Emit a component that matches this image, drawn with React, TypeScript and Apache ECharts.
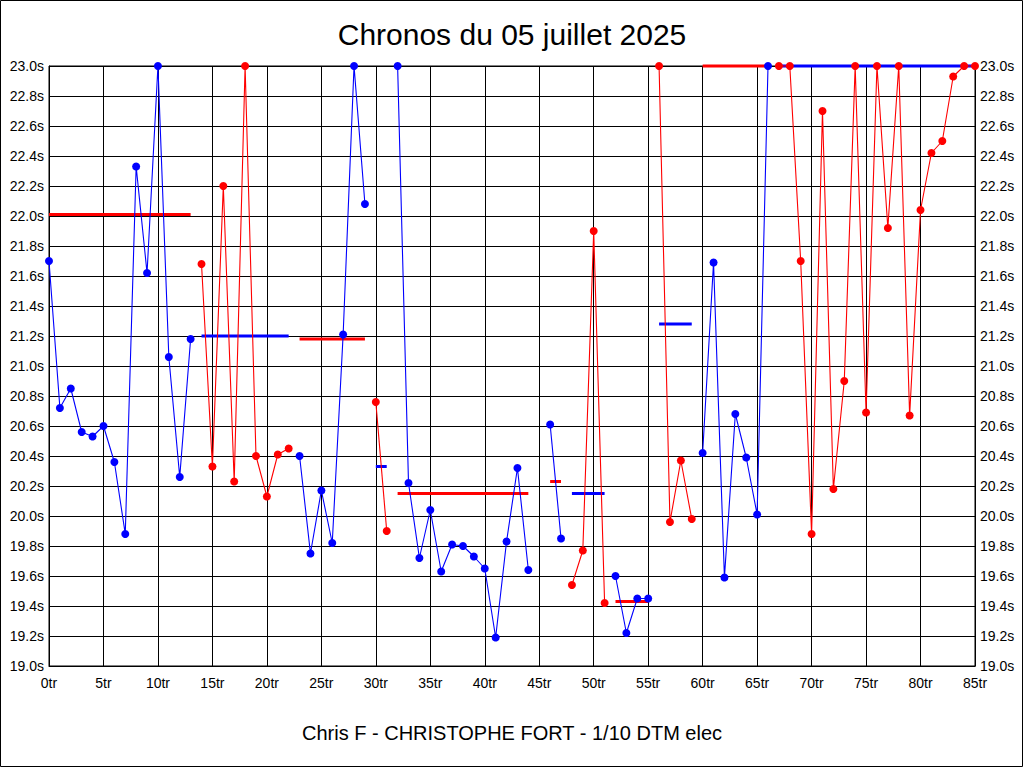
import React, { useEffect, useRef } from "react";
import * as echarts from "echarts";

// Lap times in seconds, index = lap number (null = no lap recorded). Values above 23.0s are shown clamped at 23.0s.
const lapTimes: (number | null)[] = [
  21.70, 20.72, 20.85, 20.56, 20.53, 20.60, 20.36, 19.88, 22.33, 21.62,
  23.00, 21.06, 20.26, 21.18, 21.68, 20.33, 22.20, 20.23, 23.00, 20.40,
  20.13, 20.41, 20.45, 20.40, 19.75, 20.17, 19.82, 21.21, 23.00, 22.08,
  20.76, 19.90, 23.00, 20.22, 19.72, 20.04, 19.63, 19.81, 19.80, 19.73,
  19.65, 19.19, 19.83, 20.32, 19.64, null, 20.61, 19.85, 19.54, 19.77,
  21.90, 19.42, 19.60, 19.22, 19.45, 19.45, 23.00, 19.96, 20.37, 19.98,
  20.42, 21.69, 19.59, 20.68, 20.39, 20.01, 23.00, 23.00, 23.00, 21.70,
  19.88, 22.70, 20.18, 20.90, 23.00, 20.69, 23.00, 21.92, 23.00, 20.67,
  22.04, 22.42, 22.50, 22.93, 23.00, 23.00,
];

// Runs (segments) of laps
const segmentStarts = [0, 14, 23, 30, 32, 46, 48, 52, 56, 60, 67];
const segmentEnds = [13, 22, 29, 31, 44, 47, 51, 55, 59, 66, 85];
const segmentColors = ["blue", "red", "blue", "red", "blue", "blue", "red", "blue", "red", "blue", "red"];
const segmentAverages = [22.01, 21.2, 21.18, 20.33, 20.15, 20.23, 20.15, 19.43, 21.28, 23.0, 23.0];

const titleText = "Chronos du 05 juillet 2025";
const subtitleText = "Chris F - CHRISTOPHE FORT - 1/10 DTM elec";

const COLORS: Record<string, string> = { blue: "#0000ff", red: "#ff0000" };
const FONT = "'Liberation Sans', Arial, sans-serif";

export default function App() {
  const ref = useRef<HTMLDivElement>(null);
  useEffect(() => {
    if (!ref.current) return;
    const chart = echarts.init(ref.current, null, { renderer: "svg" });
    const series: any[] = [];
    segmentStarts.forEach((start, i) => {
      const end = segmentEnds[i];
      const c = COLORS[segmentColors[i]];
      const other = segmentColors[i] === "blue" ? COLORS.red : COLORS.blue;
      const pts: number[][] = [];
      for (let lap = start; lap <= end; lap++) {
        const v = lapTimes[lap];
        if (v != null) pts.push([lap, v]);
      }
      series.push({
        type: "line",
        data: [[start, segmentAverages[i]], [end, segmentAverages[i]]],
        symbol: "none",
        lineStyle: { color: other, width: 3 },
        clip: false,
        z: 2,
        silent: true,
      });
      series.push({
        type: "line",
        data: pts,
        symbol: "circle",
        symbolSize: 8,
        showSymbol: true,
        lineStyle: { color: c, width: 1.1 },
        itemStyle: { color: c },
        clip: false,
        z: 3,
        silent: true,
      });
    });

    const yLabel = (v: number) => v.toFixed(1) + "s";
    const axisLabelStyle = { color: "#000", fontSize: 14, fontFamily: FONT };

    chart.setOption({
      animation: false,
      backgroundColor: "#fff",
      grid: {
        left: 49,
        top: 66,
        width: 926,
        height: 600,
        show: true,
        borderColor: "#000",
        borderWidth: 1,
        backgroundColor: "transparent",
      },
      xAxis: {
        type: "value",
        min: 0,
        max: 85,
        interval: 5,
        axisLine: { show: true, lineStyle: { color: "#000", width: 1 } },
        axisTick: { show: false },
        axisLabel: {
          ...axisLabelStyle,
          margin: 10,
          showMinLabel: true,
          showMaxLabel: true,
          formatter: (v: number) => v + "tr",
        },
        splitLine: { show: true, lineStyle: { color: "#000", width: 1 } },
      },
      yAxis: [
        {
          type: "value",
          position: "left",
          min: 19,
          max: 23,
          interval: 0.2,
          axisLine: { show: true, lineStyle: { color: "#000", width: 1 } },
          axisTick: { show: false },
          axisLabel: { ...axisLabelStyle, margin: 5, formatter: yLabel, showMinLabel: true, showMaxLabel: true },
          splitLine: { show: true, lineStyle: { color: "#000", width: 1 } },
        },
        {
          type: "value",
          position: "right",
          min: 19,
          max: 23,
          interval: 0.2,
          axisLine: { show: true, lineStyle: { color: "#000", width: 1 } },
          axisTick: { show: false },
          axisLabel: { ...axisLabelStyle, margin: 5, formatter: yLabel, showMinLabel: true, showMaxLabel: true },
          splitLine: { show: false },
        },
      ],
      graphic: [
        {
          type: "rect",
          shape: { x: 0.5, y: 0.5, width: 1022, height: 766 },
          style: { fill: "none", stroke: "#000", lineWidth: 1 },
          silent: true,
          z: 0,
        },
        {
          type: "text",
          x: 512,
          y: 34.5,
          style: {
            text: titleText,
            fill: "#000",
            font: `30px ${FONT}`,
            textAlign: "center",
            textVerticalAlign: "middle",
          },
          silent: true,
        },
        {
          type: "text",
          x: 512,
          y: 733,
          style: {
            text: subtitleText,
            fill: "#000",
            font: `20px ${FONT}`,
            textAlign: "center",
            textVerticalAlign: "middle",
          },
          silent: true,
        },
      ],
      series,
    });
    return () => chart.dispose();
  }, []);
  return (
    <div
      ref={ref}
      style={{ position: "absolute", left: 0, top: 0, width: 1024, height: 768, background: "#fff" }}
    />
  );
}
